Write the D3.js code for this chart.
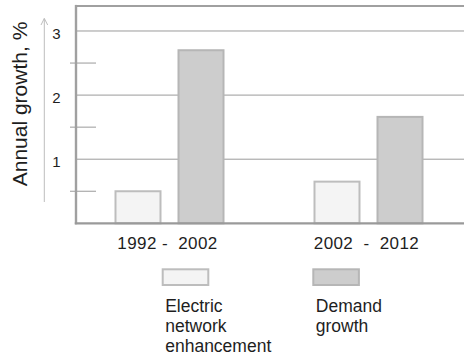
<!DOCTYPE html>
<html>
<head>
<meta charset="utf-8">
<script src="https://cdn.jsdelivr.net/npm/d3@7"></script>
<style>
  html, body { margin: 0; padding: 0; background: #fff; }
  svg { display: block; }
  text { font-family: "Liberation Sans", Arial, Helvetica, sans-serif; fill: #1e1e1e; }
</style>
</head>
<body>
<div id="chart"></div>
<script>
// Periods on the x axis
const periods = ["1992 -  2002", "2002  -  2012"];
// Series shown in each period
const seriesKeys = ["electric", "demand"];
const seriesNames = [["Electric", "network", "enhancement"], ["Demand", "growth"]];
// Annual growth, %
const electricValues = [0.5, 0.65];
const demandValues = [2.7, 1.66];
// Y axis labels and minor ticks
const yTickValues = [1, 2, 3];
const yMinorTicks = [0.5, 1.5, 2.5];

const width = 464, height = 358;
const plotLeft = 76, plotRight = 468, plotTop = 6, plotBottom = 223.3;

const fills = { electric: "#f4f4f4", demand: "#cdcdcd" };
const strokes = { electric: "#bdbdbd", demand: "#b6b6b6" };

const svg = d3.select("#chart").append("svg")
  .attr("width", width).attr("height", height);

const y = d3.scaleLinear().domain([0, 3.39]).range([plotBottom, plotTop]);
const x0 = d3.scaleBand().domain(periods).range([70, plotRight]).padding(0);
const x1 = d3.scaleBand().domain(seriesKeys).range([-54, 54]).paddingInner(2 / 7).paddingOuter(0);

const rows = periods.map((p, i) => ({
  period: p,
  values: [
    { key: "electric", value: electricValues[i] },
    { key: "demand", value: demandValues[i] }
  ]
}));

// Major gridlines
svg.append("g").selectAll("line").data(yTickValues).join("line")
  .attr("x1", plotLeft).attr("x2", width)
  .attr("y1", d => y(d)).attr("y2", d => y(d))
  .attr("stroke", "#9a9a9a").attr("stroke-width", 1);

// Minor ticks crossing the left frame
svg.append("g").selectAll("line").data(yMinorTicks).join("line")
  .attr("x1", 70).attr("x2", 96)
  .attr("y1", d => y(d)).attr("y2", d => y(d))
  .attr("stroke", "#9a9a9a").attr("stroke-width", 1);

// Bars
const groups = svg.append("g").selectAll("g").data(rows).join("g")
  .attr("transform", d => `translate(${x0(d.period) + x0.bandwidth() / 2},0)`);
groups.selectAll("rect").data(d => d.values).join("rect")
  .attr("x", d => x1(d.key))
  .attr("width", x1.bandwidth())
  .attr("y", d => y(d.value))
  .attr("height", d => y(0) - y(d.value))
  .attr("fill", d => fills[d.key])
  .attr("stroke", d => strokes[d.key])
  .attr("stroke-width", 2);

// Frame: top, left and baseline
svg.append("line").attr("x1", plotLeft).attr("x2", width)
  .attr("y1", plotTop).attr("y2", plotTop)
  .attr("stroke", "#a0a0a0").attr("stroke-width", 2.2);
svg.append("line").attr("x1", plotLeft).attr("x2", plotLeft)
  .attr("y1", plotTop - 1.1).attr("y2", y(0) + 1)
  .attr("stroke", "#a0a0a0").attr("stroke-width", 2.4);
svg.append("line").attr("x1", plotLeft - 1.2).attr("x2", width)
  .attr("y1", y(0)).attr("y2", y(0))
  .attr("stroke", "#9a9a9a").attr("stroke-width", 2.2);

// Y tick labels
svg.append("g").selectAll("text").data(yTickValues).join("text")
  .attr("x", 56.5).attr("y", d => y(d) + 3)
  .attr("dy", "0.35em")
  .attr("text-anchor", "middle")
  .attr("font-size", 15)
  .text(d => d);

// Axis arrow
svg.append("line").attr("x1", 44.3).attr("x2", 44.3)
  .attr("y1", 202).attr("y2", 18.6)
  .attr("stroke", "#bdbdbd").attr("stroke-width", 1);
svg.append("path").attr("d", "M41,25L44.3,18.4L47.7,25")
  .attr("fill", "none").attr("stroke", "#bdbdbd").attr("stroke-width", 1);

// Y axis title
svg.append("text")
  .attr("transform", "translate(27,104) rotate(-90)")
  .attr("text-anchor", "middle")
  .attr("font-size", 21)
  .text("Annual growth, %");

// X labels
svg.append("g").selectAll("text").data(periods).join("text")
  .attr("x", d => x0(d) + x0.bandwidth() / 2 - 2)
  .attr("y", 249)
  .attr("text-anchor", "middle")
  .attr("font-size", 17)
  .attr("letter-spacing", 0.4)
  .style("white-space", "pre")
  .text(d => d);

// Legend
const legend = svg.append("g").selectAll("g").data(seriesKeys).join("g")
  .attr("transform", (d, i) => `translate(${162.7 + i * 150.6},269.3)`);
legend.append("rect")
  .attr("width", 45.6).attr("height", 15.7)
  .attr("fill", d => fills[d]).attr("stroke", d => strokes[d]).attr("stroke-width", 2);
legend.append("text")
  .attr("x", 2.5).attr("y", 42.7)
  .attr("font-size", 17.5)
  .selectAll("tspan").data((d, i) => seriesNames[i]).join("tspan")
  .attr("x", 2.5).attr("dy", (d, j) => j === 0 ? 0 : 20.2)
  .text(d => d);
</script>
</body>
</html>
